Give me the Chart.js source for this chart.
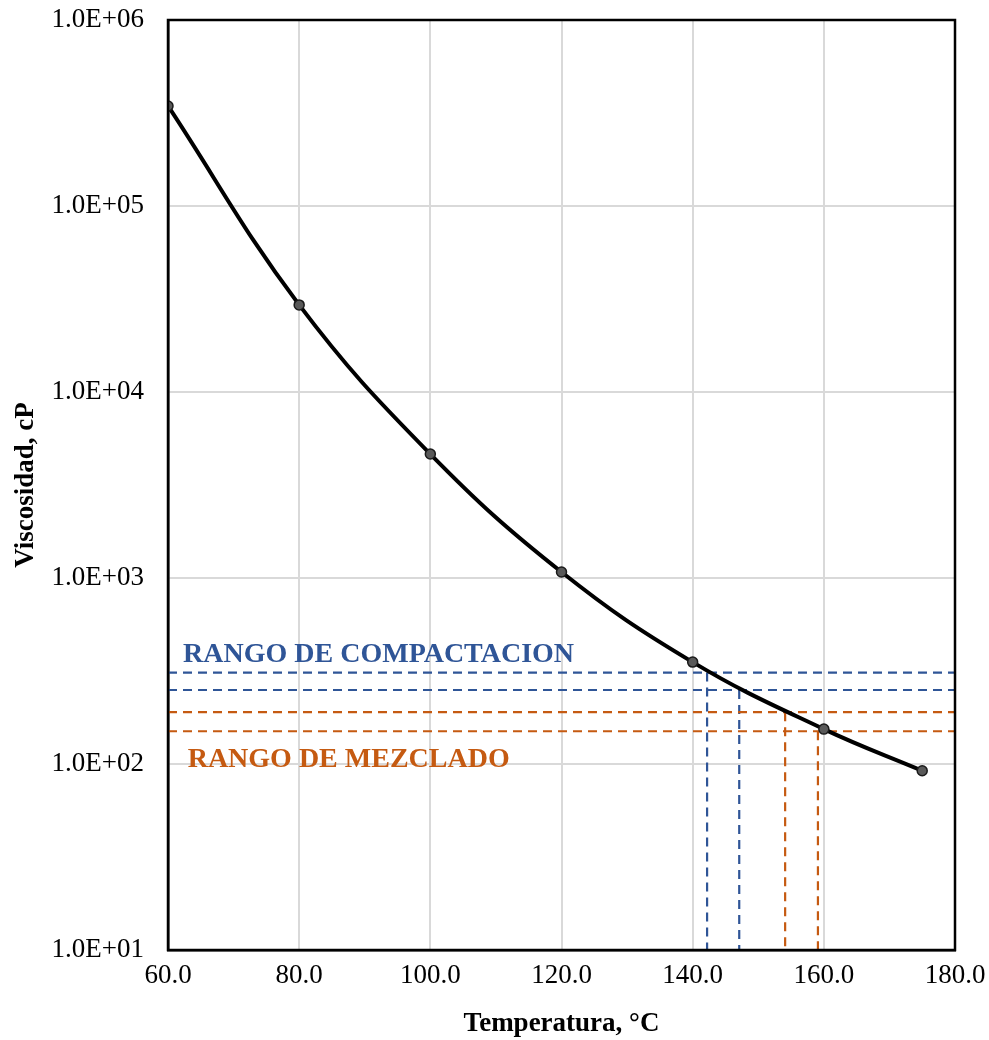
<!DOCTYPE html>
<html>
<head>
<meta charset="utf-8">
<script src="https://cdn.jsdelivr.net/npm/chart.js@4.4.0/dist/chart.umd.min.js"></script>
<style>
  body { margin: 0; background: #fff; }
  #wrap { width: 989px; height: 1040px; }
</style>
</head>
<body>
<div id="wrap"><canvas id="viscChart" width="989" height="1040"></canvas></div>
<script>
// measured points
const temps = [60, 80, 100, 120, 140, 160, 175];
const viscosity = [345000, 29400, 4640, 1077, 353, 154, 92];

// ranges (cP) and the temperatures where they cut the curve
const compactRange = [310, 250];
const compactTemps = [142.2, 147.1];
const mixRange = [190, 150];
const mixTemps = [154.1, 159.1];

const xTicks = [60, 80, 100, 120, 140, 160, 180];
const yTicks = [1e1, 1e2, 1e3, 1e4, 1e5, 1e6];

const BLUE = '#2F5597';
const ORANGE = '#C55A11';
const SERIF = "'Liberation Serif', 'Times New Roman', serif";

function hLine(v, color) {
    return {
        data: [{ x: 60, y: v }, { x: 180, y: v }],
        borderColor: color, borderWidth: 2.2, borderDash: [9, 6],
        pointRadius: 0, tension: 0, order: 2
    };
}
function vLine(t, v, color) {
    return {
        data: [{ x: t, y: v }, { x: t, y: 10 }],
        borderColor: color, borderWidth: 2.2, borderDash: [9, 6],
        pointRadius: 0, tension: 0, order: 2
    };
}

const rangeSets = [
    hLine(compactRange[0], BLUE), hLine(compactRange[1], BLUE),
    hLine(mixRange[0], ORANGE), hLine(mixRange[1], ORANGE),
    vLine(compactTemps[0], compactRange[0], BLUE), vLine(compactTemps[1], compactRange[1], BLUE),
    vLine(mixTemps[0], mixRange[0], ORANGE), vLine(mixTemps[1], mixRange[1], ORANGE)
];

// frame + range labels
const extras = {
    id: 'extras',
    afterDatasetsDraw(chart) {
        const { ctx, chartArea: a, scales: { x, y } } = chart;
        ctx.save();
        ctx.font = 'bold 28px ' + SERIF;
        ctx.textBaseline = 'middle';
        ctx.fillStyle = BLUE;
        ctx.fillText('RANGO DE COMPACTACION', x.getPixelForValue(62.3), y.getPixelForValue(385));
        ctx.fillStyle = ORANGE;
        ctx.fillText('RANGO DE MEZCLADO', x.getPixelForValue(63), y.getPixelForValue(105));
        ctx.strokeStyle = '#000';
        ctx.lineWidth = 2.5;
        ctx.strokeRect(a.left, a.top, a.right - a.left, a.bottom - a.top);
        ctx.restore();
    }
};

new Chart(document.getElementById('viscChart'), {
    type: 'line',
    data: {
        datasets: [{
            data: temps.map((t, i) => ({ x: t, y: viscosity[i] })),
            borderColor: '#000',
            borderWidth: 4,
            tension: 0.4,
            pointRadius: 5,
            pointBackgroundColor: '#595959',
            pointBorderColor: '#1a1a1a',
            pointBorderWidth: 1.5,
            order: 1
        }, ...rangeSets]
    },
    options: {
        responsive: false,
        animation: false,
        layout: { padding: 0 },
        plugins: { legend: { display: false }, tooltip: { enabled: false } },
        scales: {
            x: {
                type: 'linear', min: 60, max: 180,
                afterBuildTicks: s => { s.ticks = xTicks.map(v => ({ value: v })); },
                afterFit: s => { s.height = 90; s.paddingRight = 34; s.paddingLeft = 0; },
                grid: { color: '#d9d9d9', lineWidth: 2, drawTicks: false },
                border: { color: '#000', width: 2.5 },
                ticks: {
                    color: '#000', padding: 10, font: { family: SERIF, size: 27 },
                    callback: v => v.toFixed(1)
                },
                title: {
                    display: true, text: 'Temperatura, °C', color: '#000',
                    font: { family: SERIF, size: 27, weight: 'bold' }, padding: { top: 2, bottom: 0 }
                }
            },
            y: {
                type: 'logarithmic', min: 10, max: 1e6,
                afterBuildTicks: s => { s.ticks = yTicks.map(v => ({ value: v })); },
                afterFit: s => { s.width = 168; s.paddingTop = 20; s.paddingBottom = 0; },
                grid: { color: '#d9d9d9', lineWidth: 2, drawTicks: false },
                border: { color: '#000', width: 2.5 },
                ticks: {
                    color: '#000', padding: 24, font: { family: SERIF, size: 27 },
                    callback: v => '1.0E+' + String(Math.round(Math.log10(v))).padStart(2, '0')
                },
                title: {
                    display: true, text: 'Viscosidad, cP', color: '#000',
                    font: { family: SERIF, size: 27, weight: 'bold' }, padding: { top: 10, bottom: 0 }
                }
            }
        }
    },
    plugins: [extras]
});
</script>
</body>
</html>
